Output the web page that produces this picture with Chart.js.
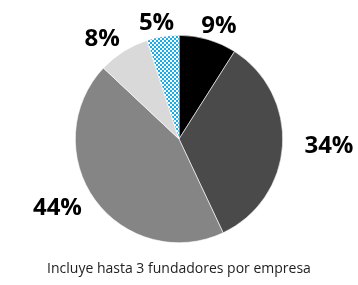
<!DOCTYPE html>
<html>
<head>
<meta charset="utf-8">
<script src="https://cdn.jsdelivr.net/npm/chart.js@4.4.1/dist/chart.umd.min.js"></script>
<style>
    html, body { margin: 0; padding: 0; background: #fff; }
    #wrap { position: relative; width: 358px; height: 285px; }
    #caption {
        position: absolute; left: 0; top: 259px; width: 358px;
        text-align: center; font-family: "Open Sans", sans-serif;
        font-size: 14px; line-height: 18px; color: #222;
    }
</style>
</head>
<body>
<div id="wrap">
    <canvas id="pieChart" width="358" height="285"></canvas>
    <div id="caption">Incluye hasta 3 fundadores por empresa</div>
</div>
<script>
// data, clockwise from 12 o'clock
const categories = ['Grupo 1', 'Grupo 2', 'Grupo 3', 'Grupo 4', 'Grupo 5'];
const shares = [9, 34, 44, 8, 5];
const shareLabels = ['9%', '34%', '44%', '8%', '5%'];

// blue checkered fill for the small slice
function checkerPattern() {
    const c = document.createElement('canvas');
    c.width = 4; c.height = 4;
    const g = c.getContext('2d');
    g.fillStyle = '#ffffff';
    g.fillRect(0, 0, 4, 4);
    g.fillStyle = '#12aef0';
    g.fillRect(0, 0, 2, 2);
    g.fillRect(2, 2, 2, 2);
    return g.createPattern(c, 'repeat');
}

const ctx = document.getElementById('pieChart').getContext('2d');

// outside-end labels; wider gap sideways than up/down, like the original
const outsideLabels = {
    id: 'outsideLabels',
    afterDatasetsDraw(chart) {
        const c = chart.ctx;
        const arcs = chart.getDatasetMeta(0).data;
        c.save();
        c.font = 'bold 24px "Open Sans", sans-serif';
        c.fillStyle = '#000';
        c.textAlign = 'center';
        c.textBaseline = 'middle';
        arcs.forEach((arc, i) => {
            const p = arc.getProps(['x', 'y', 'startAngle', 'endAngle', 'outerRadius'], true);
            const mid = (p.startAngle + p.endAngle) / 2;
            const dx = Math.cos(mid), dy = Math.sin(mid);
            const w = c.measureText(shareLabels[i]).width;
            const h = 18;
            const tx = p.x + dx * (p.outerRadius + 22 + w / 2);
            const ty = p.y + dy * (p.outerRadius + 5 + h / 2);
            c.fillText(shareLabels[i], tx, ty);
        });
        c.restore();
    }
};

new Chart(ctx, {
    type: 'pie',
    data: {
        labels: categories,
        datasets: [{
            data: shares,
            backgroundColor: ['#000000', '#4a4a4a', '#858585', '#d9d9d9', checkerPattern()],
            borderColor: '#ffffff',
            borderWidth: 0.6
        }]
    },
    options: {
        responsive: false,
        animation: false,
        layout: { padding: { top: 35, bottom: 42, left: 75, right: 75 } },
        plugins: {
            legend: { display: false },
            tooltip: { enabled: false }
        }
    },
    plugins: [outsideLabels]
});
</script>
</body>
</html>
